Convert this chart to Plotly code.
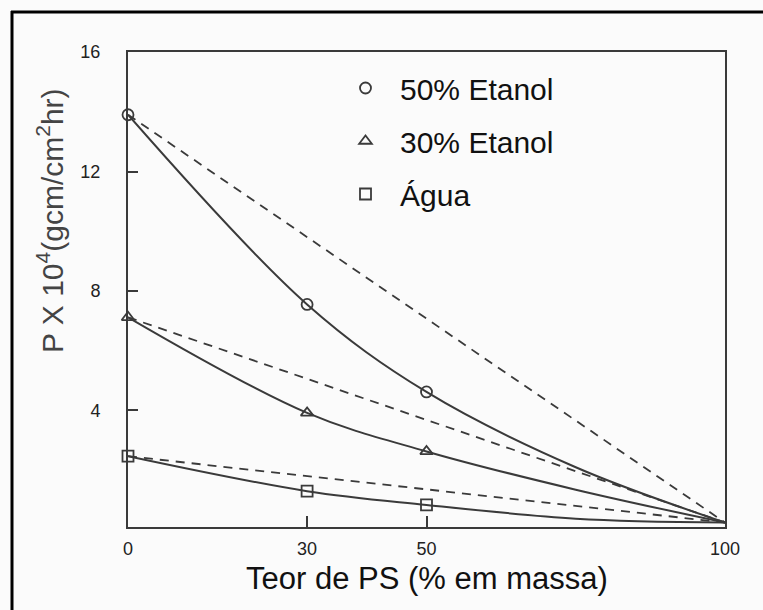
import plotly.graph_objects as go

# Permeability of films vs. PS content, for three feed solutions
ps_content = [0, 30, 50]                 # % PS (mass)
perm_etanol50 = [13.9, 7.55, 4.62]       # P x 10^4 (gcm/cm2hr)
perm_etanol30 = [7.12, 3.92, 2.63]
perm_agua = [2.47, 1.30, 0.84]

# Smooth fitted curves ending at pure PS
curve_x = [0, 30, 50, 75, 100]
curve_etanol50 = [13.9, 7.55, 4.62, 2.1, 0.25]
curve_etanol30 = [7.12, 3.92, 2.63, 1.35, 0.25]
curve_agua = [2.47, 1.30, 0.84, 0.38, 0.25]

# Straight (additive) reference lines from pure component to pure PS
ideal_x = [0, 100]
ideal_etanol50 = [13.9, 0.25]
ideal_etanol30 = [7.12, 0.25]
ideal_agua = [2.47, 0.25]

series_names = ["50% Etanol", "30% Etanol", "Água"]
x_ticks = [0, 30, 50, 100]
y_ticks = [4, 8, 12, 16]

LINE = "#3a3a3a"
BG = "#fbfbfb"
TICKFONT = dict(family="Liberation Sans, Arial, sans-serif", size=18, color="#222")

fig = go.Figure()

for cy in (curve_etanol50, curve_etanol30, curve_agua):
    fig.add_trace(go.Scatter(x=curve_x, y=cy, mode="lines", line_shape="spline",
                             line=dict(color=LINE, width=2), showlegend=False,
                             hoverinfo="skip"))

for iy in (ideal_etanol50, ideal_etanol30, ideal_agua):
    fig.add_trace(go.Scatter(x=ideal_x, y=iy, mode="lines",
                             line=dict(color=LINE, width=1.8, dash="9px,7px"),
                             showlegend=False, hoverinfo="skip"))

symbols = ["circle-open", "triangle-up-open", "square-open"]
for i, (name, yv, sym) in enumerate(zip(series_names,
                                        (perm_etanol50, perm_etanol30, perm_agua),
                                        symbols)):
    fig.add_trace(go.Scatter(x=ps_content, y=yv, mode="markers", name=name,
                             legendgroup=f"g{i}",
                             marker=dict(symbol=sym, size=11, color=LINE,
                                         line=dict(width=1.8, color=LINE)),
                             cliponaxis=False))

# plot area in pixels
L, R, T, B = 128, 725, 52, 527
W, H = 763, 610
pw, ph = R - L, B - T

def px_x(x):
    return (x - L) / pw

def px_y(y):
    return (B - y) / ph

fig.update_layout(
    width=W, height=H,
    margin=dict(l=L, r=W - R, t=T, b=H - B),
    paper_bgcolor=BG, plot_bgcolor=BG,
    font=dict(family="Liberation Sans, Arial, sans-serif", color="#111"),
    showlegend=True,
    legend=dict(x=px_x(331), y=px_y(62), xanchor="left", yanchor="top",
                bgcolor="rgba(0,0,0,0)", font=dict(size=30, color="#111"),
                tracegroupgap=11, itemwidth=59),
    xaxis=dict(range=[0, 100], tickvals=x_ticks, ticktext=[str(v) for v in x_ticks],
               ticks="inside", ticklen=11, tickwidth=2, tickcolor=LINE,
               showline=True, linecolor=LINE, linewidth=2, mirror=True,
               showgrid=False, zeroline=False, tickfont=TICKFONT,
               ticklabelstandoff=4),
    yaxis=dict(range=[0.1, 16], tickvals=y_ticks, ticktext=[str(v) for v in y_ticks],
               ticks="inside", ticklen=10, tickwidth=2, tickcolor=LINE,
               showline=True, linecolor=LINE, linewidth=2, mirror=True,
               showgrid=False, zeroline=False, tickfont=TICKFONT,
               ticklabelstandoff=22),
    annotations=[
        dict(text="Teor de PS (% em massa)", xref="paper", yref="paper",
             x=px_x(427), y=px_y(578), xanchor="center", yanchor="middle",
             showarrow=False, font=dict(size=31, color="#111")),
        dict(text="P X 10<sup>4</sup>(gcm/cm<sup>2</sup>hr)", xref="paper", yref="paper",
             x=px_x(50), y=px_y(221), xanchor="center", yanchor="middle",
             textangle=-90, showarrow=False, font=dict(size=30, color="#444")),
    ],
    shapes=[
        dict(type="line", xref="paper", yref="paper", x0=px_x(12), x1=px_x(12),
             y0=px_y(11), y1=px_y(620), line=dict(color="black", width=3)),
        dict(type="line", xref="paper", yref="paper", x0=px_x(11), x1=px_x(770),
             y0=px_y(12), y1=px_y(12), line=dict(color="black", width=3)),
    ],
)

fig.write_html("out.html")
